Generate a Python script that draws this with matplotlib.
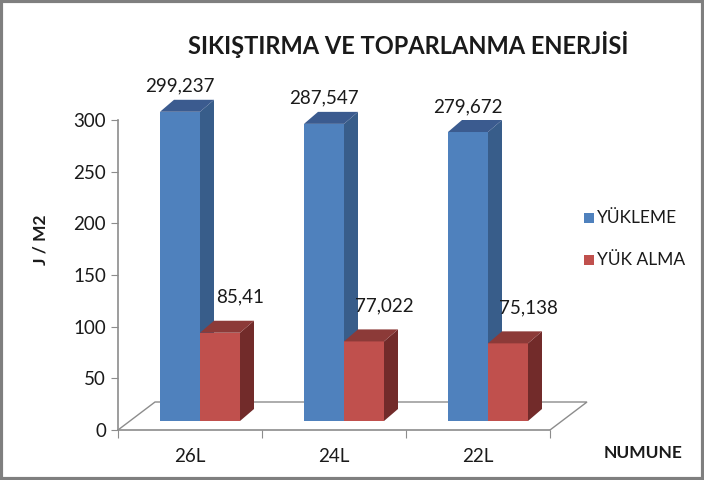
import matplotlib
matplotlib.use("Agg")
import matplotlib.pyplot as plt
from matplotlib.patches import Polygon, Rectangle

plt.rcParams['font.family'] = ['Lato', 'DejaVu Sans']

categories = ['26L', '24L', '22L']
yukleme = [299.237, 287.547, 279.672]
yuk_alma = [85.41, 77.022, 75.138]
yukleme_labels = ['299,237', '287,547', '279,672']
yuk_alma_labels = ['85,41', '77,022', '75,138']
series_names = ['YÜKLEME', 'YÜK ALMA']

blue = ('#4F81BD', '#385D8A', '#3B5B8F')    # front, side, top
red = ('#C0504D', '#722B2A', '#8C3A38')

W, H = 704, 480
fig = plt.figure(figsize=(W / 100, H / 100), dpi=100)

# axes placed in pixel units: y=0 at 430px, 300 at 120px, category step 144px
ax_l, ax_r, ax_b, ax_t = 118, 600, 430, 80
ax = fig.add_axes([ax_l / W, 1 - ax_b / H, (ax_r - ax_l) / W, (ax_b - ax_t) / H])
px_x = 1 / 144.0
px_y = 300 / 310.0
ax.set_xlim(-0.5, -0.5 + (ax_r - ax_l) * px_x)
ax.set_ylim(0, (ax_b - ax_t) * px_y)

# floor in pseudo 3d
fdx, fdy = 37 * px_x, 28 * px_y
floor = [(-0.5, 0), (-0.5 + fdx, fdy), (2.5 + fdx, fdy), (2.5, 0)]
ax.add_patch(Polygon(floor, closed=False, fill=False, edgecolor='#8C8C8C', lw=1.0, zorder=1))

# bars
bw = 40 * px_x
ox, oy = 10 * px_x, 9 * px_y          # bar front sits a bit into the floor
sdx, sdy = 14 * px_x, 12 * px_y        # bar depth


def bar3d(x0, h, cols):
    y0 = oy
    y1 = oy + h
    ax.add_patch(Polygon([(x0, y0), (x0 + bw, y0), (x0 + bw, y1), (x0, y1)],
                         facecolor=cols[0], edgecolor='none', zorder=3))
    ax.add_patch(Polygon([(x0 + bw, y0), (x0 + bw + sdx, y0 + sdy),
                          (x0 + bw + sdx, y1 + sdy), (x0 + bw, y1)],
                         facecolor=cols[1], edgecolor='none', zorder=3))
    ax.add_patch(Polygon([(x0, y1), (x0 + sdx, y1 + sdy),
                          (x0 + bw + sdx, y1 + sdy), (x0 + bw, y1)],
                         facecolor=cols[2], edgecolor='none', zorder=3))


for i in range(len(categories)):
    c = i + ox
    bar3d(c - bw, yukleme[i], blue)
    bar3d(c, yuk_alma[i], red)
    ax.text(c - bw / 2, oy + yukleme[i] + 17 * px_y, yukleme_labels[i],
            ha='center', va='bottom', fontsize=13.5, color='#1a1a1a')
    ax.text(c + bw / 2 + 20 * px_x, oy + yuk_alma[i] + 27 * px_y, yuk_alma_labels[i],
            ha='center', va='bottom', fontsize=13.5, color='#1a1a1a')

# axes styling
for s in ['top', 'right']:
    ax.spines[s].set_visible(False)
ax.spines['left'].set_bounds(0, 300)
ax.spines['bottom'].set_bounds(-0.5, 2.5)
for s in ['left', 'bottom']:
    ax.spines[s].set_color('#8C8C8C')
    ax.spines[s].set_linewidth(1.2)
ax.set_yticks(range(0, 301, 50))
ax.tick_params(axis='y', colors='#8C8C8C', labelcolor='#1a1a1a', labelsize=13.5, length=5)
ax.set_xticks([-0.5, 0.5, 1.5, 2.5])
ax.set_xticklabels([])
ax.set_xticks(range(len(categories)), minor=True)
ax.set_xticklabels(categories, minor=True)
ax.tick_params(axis='x', which='major', colors='#8C8C8C', length=6)
ax.tick_params(axis='x', which='minor', length=0, labelsize=13.5, labelcolor='#1a1a1a', pad=13)
ax.patch.set_visible(False)

fig.text(408 / W, 1 - 45 / H, 'SIKIŞTIRMA VE TOPARLANMA ENERJİSİ', ha='center', va='center',
         fontsize=17, fontweight='bold', color='#1a1a1a')
fig.text(40 / W, 1 - 240 / H, 'J / M2', rotation=90, ha='center', va='center',
         fontsize=12.5, fontweight='bold', color='#1a1a1a')
fig.text(643 / W, 1 - 453 / H, 'NUMUNE', ha='center', va='center',
         fontsize=12.5, fontweight='bold', color='#1a1a1a')

# legend
for k, (name, col) in enumerate(zip(series_names, [blue[0], red[0]])):
    yy = 218 + k * 42
    fig.patches.append(Rectangle((584 / W, 1 - (yy + 5) / H), 10 / W, 10 / H,
                                 transform=fig.transFigure, facecolor=col, edgecolor='none'))
    fig.text(597 / W, 1 - yy / H, name, ha='left', va='center', fontsize=12.5, color='#1a1a1a')

# outer border
fig.patches.append(Rectangle((0.002, 0.003), 0.996, 0.994, transform=fig.transFigure,
                             fill=False, edgecolor='#7F7F7F', lw=3))

fig.savefig('out.png', dpi=100)
